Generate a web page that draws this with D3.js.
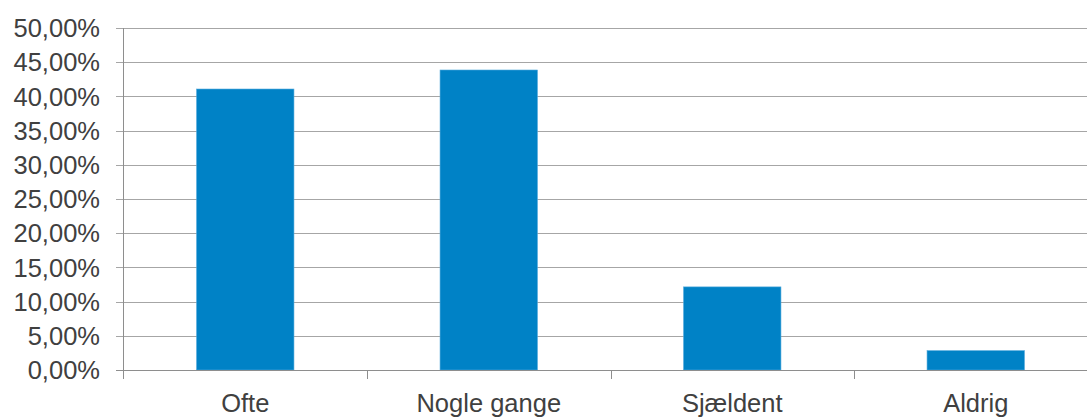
<!DOCTYPE html>
<html><head><meta charset="utf-8">
<script src="https://cdn.jsdelivr.net/npm/d3@7"></script>
<style>body{margin:0;background:#fff}svg{display:block}</style>
</head><body>
<svg id="c" width="1087" height="417"></svg>
<script>
const categories = ["Ofte", "Nogle gange", "Sjældent", "Aldrig"];
const values = [41.08, 43.86, 12.15, 2.83];
const yTicks = [0, 5, 10, 15, 20, 25, 30, 35, 40, 45, 50];

(function () {
const svg = d3.select("#c");
const pLeft = 123.5, pRight = 1097.5, pTop = 28, pBottom = 370;
const x = d3.scaleBand().domain(categories).range([pLeft, pRight]).paddingInner(0.6).paddingOuter(0.3);
const y = d3.scaleLinear().domain([0, 50]).range([pBottom, pTop]);
const fmt = v => v.toFixed(2).replace(".", ",") + "%";
const font = "'Liberation Sans', Arial, sans-serif";

// gridlines
svg.append("g").selectAll("line").data(yTicks.filter(t => t > 0)).join("line")
  .attr("x1", pLeft - 7.5).attr("x2", 1087)
  .attr("y1", d => Math.round(y(d)) + 0.5).attr("y2", d => Math.round(y(d)) + 0.5)
  .attr("stroke", "#a6a6a6").attr("stroke-width", 1);

// bars
svg.append("g").selectAll("rect").data(values).join("rect")
  .attr("x", (d, i) => x(categories[i]))
  .attr("width", x.bandwidth())
  .attr("y", d => y(d))
  .attr("height", d => pBottom - y(d))
  .attr("fill", "#0082c6")
  .attr("stroke", "#52a9dc").attr("stroke-width", 0.6);

// y axis line
svg.append("line").attr("x1", pLeft).attr("x2", pLeft).attr("y1", pTop).attr("y2", pBottom + 9)
  .attr("stroke", "#8e8e8e").attr("stroke-width", 1);
// x axis line
svg.append("line").attr("x1", pLeft - 7.5).attr("x2", 1087).attr("y1", pBottom + 0.5).attr("y2", pBottom + 0.5)
  .attr("stroke", "#8e8e8e").attr("stroke-width", 1);
// x ticks at band boundaries
svg.append("g").selectAll("line").data(categories.slice(1)).join("line")
  .attr("x1", d => Math.round(x(d) - x.step() * x.paddingInner() / 2) + 0.5)
  .attr("x2", d => Math.round(x(d) - x.step() * x.paddingInner() / 2) + 0.5)
  .attr("y1", pBottom).attr("y2", pBottom + 9)
  .attr("stroke", "#8e8e8e").attr("stroke-width", 1);

// y labels
svg.append("g").selectAll("text").data(yTicks).join("text")
  .attr("x", 100).attr("y", d => y(d)).attr("dy", "0.36em")
  .attr("text-anchor", "end")
  .attr("font-family", font).attr("font-size", 25.5).attr("fill", "#404040")
  .text(fmt);

// x labels
svg.append("g").selectAll("text").data(categories).join("text")
  .attr("x", d => x(d) + x.bandwidth() / 2).attr("y", 412)
  .attr("text-anchor", "middle")
  .attr("font-family", font).attr("font-size", 25.5).attr("fill", "#404040")
  .text(d => d);
})();
</script>
</body></html>
